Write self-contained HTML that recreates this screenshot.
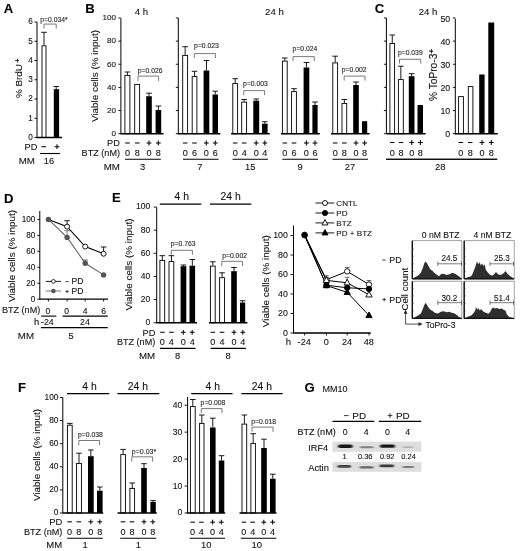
<!DOCTYPE html>
<html><head><meta charset="utf-8"><title>Figure</title>
<style>html,body{margin:0;padding:0;background:#fff}body{width:520px;height:551px;overflow:hidden;font-family:"Liberation Sans",sans-serif}svg{display:block;will-change:transform}text{font-family:"Liberation Sans",sans-serif;stroke:#111;stroke-width:0.1px;paint-order:stroke fill}</style>
</head><body>
<svg width="520" height="551" viewBox="0 0 520 551">
<rect width="520" height="551" fill="#fff"/>
<text x="3.80" y="13.49" font-size="13.1" text-anchor="start" font-weight="bold" fill="#000">A</text>
<text x="85.30" y="12.99" font-size="13.1" text-anchor="start" font-weight="bold" fill="#000">B</text>
<text x="374.80" y="12.99" font-size="13.1" text-anchor="start" font-weight="bold" fill="#000">C</text>
<text x="4.00" y="202.99" font-size="13.1" text-anchor="start" font-weight="bold" fill="#000">D</text>
<text x="112.00" y="202.19" font-size="13.1" text-anchor="start" font-weight="bold" fill="#000">E</text>
<text x="18.00" y="391.89" font-size="13.1" text-anchor="start" font-weight="bold" fill="#000">F</text>
<text x="304.50" y="392.09" font-size="13.1" text-anchor="start" font-weight="bold" fill="#000">G</text>
<line x1="37.00" y1="22.00" x2="37.00" y2="137.50" stroke="#000" stroke-width="1" stroke-linecap="butt"/>
<line x1="34.50" y1="137.50" x2="37.00" y2="137.50" stroke="#000" stroke-width="0.9" stroke-linecap="butt"/>
<text x="32.70" y="139.84" font-size="8.2" text-anchor="end" font-weight="normal" fill="#111">0</text>
<line x1="34.50" y1="118.25" x2="37.00" y2="118.25" stroke="#000" stroke-width="0.9" stroke-linecap="butt"/>
<text x="32.70" y="120.59" font-size="8.2" text-anchor="end" font-weight="normal" fill="#111">1</text>
<line x1="34.50" y1="99.00" x2="37.00" y2="99.00" stroke="#000" stroke-width="0.9" stroke-linecap="butt"/>
<text x="32.70" y="101.34" font-size="8.2" text-anchor="end" font-weight="normal" fill="#111">2</text>
<line x1="34.50" y1="79.75" x2="37.00" y2="79.75" stroke="#000" stroke-width="0.9" stroke-linecap="butt"/>
<text x="32.70" y="82.09" font-size="8.2" text-anchor="end" font-weight="normal" fill="#111">3</text>
<line x1="34.50" y1="60.50" x2="37.00" y2="60.50" stroke="#000" stroke-width="0.9" stroke-linecap="butt"/>
<text x="32.70" y="62.84" font-size="8.2" text-anchor="end" font-weight="normal" fill="#111">4</text>
<line x1="34.50" y1="41.25" x2="37.00" y2="41.25" stroke="#000" stroke-width="0.9" stroke-linecap="butt"/>
<text x="32.70" y="43.59" font-size="8.2" text-anchor="end" font-weight="normal" fill="#111">5</text>
<line x1="34.50" y1="22.00" x2="37.00" y2="22.00" stroke="#000" stroke-width="0.9" stroke-linecap="butt"/>
<text x="32.70" y="24.34" font-size="8.2" text-anchor="end" font-weight="normal" fill="#111">6</text>
<line x1="44.00" y1="32.30" x2="44.00" y2="45.40" stroke="#000" stroke-width="0.9" stroke-linecap="butt"/>
<line x1="41.20" y1="32.30" x2="46.80" y2="32.30" stroke="#000" stroke-width="0.9" stroke-linecap="butt"/>
<rect x="42.00" y="45.80" width="4.00" height="91.70" fill="#fff" stroke="#000" stroke-width="0.9"/>
<line x1="56.20" y1="86.50" x2="56.20" y2="89.40" stroke="#000" stroke-width="0.9" stroke-linecap="butt"/>
<line x1="53.40" y1="86.50" x2="59.00" y2="86.50" stroke="#000" stroke-width="0.9" stroke-linecap="butt"/>
<rect x="53.80" y="89.20" width="5.30" height="48.30" fill="#000"/>
<line x1="36.50" y1="137.50" x2="62.00" y2="137.50" stroke="#000" stroke-width="1.5" stroke-linecap="butt"/>
<g transform="translate(18.80 78.20) rotate(-90)"><text x="0" y="3.54" font-size="9.9" text-anchor="middle" fill="#111">% BrdU<tspan dy="-2.67" dx="1.3" font-size="7.43" font-weight="bold">+</tspan></text></g>
<text x="54.00" y="21.63" font-size="6.8" text-anchor="middle" font-weight="normal" fill="#222">p=0.034*</text>
<path d="M44.00 28.60V24.10H56.20V28.60" fill="none" stroke="#585858" stroke-width="0.8"/>
<text x="37.30" y="149.99" font-size="9.2" text-anchor="end" font-weight="normal" fill="#111">PD</text>
<line x1="41.40" y1="146.70" x2="46.00" y2="146.70" stroke="#111" stroke-width="1.1" stroke-linecap="butt"/>
<line x1="54.60" y1="146.70" x2="59.40" y2="146.70" stroke="#111" stroke-width="1.1" stroke-linecap="butt"/>
<line x1="57.00" y1="144.30" x2="57.00" y2="149.10" stroke="#111" stroke-width="1.1" stroke-linecap="butt"/>
<line x1="40.00" y1="153.50" x2="60.00" y2="153.50" stroke="#000" stroke-width="1.1" stroke-linecap="butt"/>
<text x="34.80" y="163.77" font-size="9.7" text-anchor="end" font-weight="normal" fill="#111">MM</text>
<text x="49.00" y="163.73" font-size="9.3" text-anchor="middle" font-weight="normal" fill="#111">16</text>
<line x1="120.90" y1="18.40" x2="120.90" y2="133.70" stroke="#000" stroke-width="1" stroke-linecap="butt"/>
<line x1="118.40" y1="133.70" x2="120.90" y2="133.70" stroke="#000" stroke-width="0.9" stroke-linecap="butt"/>
<text x="115.90" y="136.00" font-size="8.1" text-anchor="end" font-weight="normal" fill="#111">0</text>
<line x1="118.40" y1="110.55" x2="120.90" y2="110.55" stroke="#000" stroke-width="0.9" stroke-linecap="butt"/>
<text x="115.90" y="112.85" font-size="8.1" text-anchor="end" font-weight="normal" fill="#111">20</text>
<line x1="118.40" y1="87.40" x2="120.90" y2="87.40" stroke="#000" stroke-width="0.9" stroke-linecap="butt"/>
<text x="115.90" y="89.70" font-size="8.1" text-anchor="end" font-weight="normal" fill="#111">40</text>
<line x1="118.40" y1="64.25" x2="120.90" y2="64.25" stroke="#000" stroke-width="0.9" stroke-linecap="butt"/>
<text x="115.90" y="66.55" font-size="8.1" text-anchor="end" font-weight="normal" fill="#111">60</text>
<line x1="118.40" y1="41.10" x2="120.90" y2="41.10" stroke="#000" stroke-width="0.9" stroke-linecap="butt"/>
<text x="115.90" y="43.40" font-size="8.1" text-anchor="end" font-weight="normal" fill="#111">80</text>
<line x1="118.40" y1="17.95" x2="120.90" y2="17.95" stroke="#000" stroke-width="0.9" stroke-linecap="butt"/>
<text x="115.90" y="20.25" font-size="8.1" text-anchor="end" font-weight="normal" fill="#111">100</text>
<g transform="translate(94.20 76.00) rotate(-90)"><text x="0" y="3.54" font-size="9.9" text-anchor="middle" fill="#111">Viable cells (% input)</text></g>
<text x="141.50" y="14.84" font-size="9.6" text-anchor="middle" font-weight="normal" fill="#111">4 h</text>
<text x="274.40" y="15.04" font-size="9.6" text-anchor="middle" font-weight="normal" fill="#111">24 h</text>
<line x1="127.40" y1="72.00" x2="127.40" y2="75.00" stroke="#000" stroke-width="0.9" stroke-linecap="butt"/>
<line x1="124.60" y1="72.00" x2="130.20" y2="72.00" stroke="#000" stroke-width="0.9" stroke-linecap="butt"/>
<rect x="124.90" y="75.40" width="5.00" height="58.30" fill="#fff" stroke="#000" stroke-width="0.9"/>
<rect x="134.70" y="84.40" width="4.90" height="49.30" fill="#fff" stroke="#000" stroke-width="0.9"/>
<line x1="149.00" y1="93.20" x2="149.00" y2="96.20" stroke="#000" stroke-width="0.9" stroke-linecap="butt"/>
<line x1="146.20" y1="93.20" x2="151.80" y2="93.20" stroke="#000" stroke-width="0.9" stroke-linecap="butt"/>
<rect x="146.20" y="96.20" width="5.60" height="37.50" fill="#000"/>
<line x1="158.40" y1="106.00" x2="158.40" y2="110.00" stroke="#000" stroke-width="0.9" stroke-linecap="butt"/>
<line x1="155.60" y1="106.00" x2="161.20" y2="106.00" stroke="#000" stroke-width="0.9" stroke-linecap="butt"/>
<rect x="155.60" y="110.00" width="5.60" height="23.70" fill="#000"/>
<line x1="120.40" y1="133.70" x2="163.60" y2="133.70" stroke="#000" stroke-width="1.5" stroke-linecap="butt"/>
<line x1="125.20" y1="143.00" x2="129.80" y2="143.00" stroke="#111" stroke-width="1.1" stroke-linecap="butt"/>
<line x1="135.00" y1="143.00" x2="139.60" y2="143.00" stroke="#111" stroke-width="1.1" stroke-linecap="butt"/>
<line x1="146.60" y1="143.00" x2="151.40" y2="143.00" stroke="#111" stroke-width="1.1" stroke-linecap="butt"/>
<line x1="149.00" y1="140.60" x2="149.00" y2="145.40" stroke="#111" stroke-width="1.1" stroke-linecap="butt"/>
<line x1="155.90" y1="143.00" x2="160.70" y2="143.00" stroke="#111" stroke-width="1.1" stroke-linecap="butt"/>
<line x1="158.30" y1="140.60" x2="158.30" y2="145.40" stroke="#111" stroke-width="1.1" stroke-linecap="butt"/>
<text x="127.50" y="156.46" font-size="9.1" text-anchor="middle" font-weight="normal" fill="#111">0</text>
<text x="137.30" y="156.46" font-size="9.1" text-anchor="middle" font-weight="normal" fill="#111">8</text>
<text x="149.00" y="156.46" font-size="9.1" text-anchor="middle" font-weight="normal" fill="#111">0</text>
<text x="158.30" y="156.46" font-size="9.1" text-anchor="middle" font-weight="normal" fill="#111">8</text>
<line x1="125.00" y1="159.20" x2="160.80" y2="159.20" stroke="#000" stroke-width="1.1" stroke-linecap="butt"/>
<text x="142.70" y="169.57" font-size="9.4" text-anchor="middle" font-weight="normal" fill="#111">3</text>
<text x="150.20" y="72.73" font-size="6.8" text-anchor="middle" font-weight="normal" fill="#222">p=0.026</text>
<path d="M138.00 81.10V76.10H158.60V81.10" fill="none" stroke="#585858" stroke-width="0.8"/>
<text x="119.80" y="146.29" font-size="9.2" text-anchor="end" font-weight="normal" fill="#111">PD</text>
<text x="120.00" y="156.46" font-size="9.1" text-anchor="end" font-weight="normal" fill="#111">BTZ (nM)</text>
<text x="119.80" y="169.67" font-size="9.7" text-anchor="end" font-weight="normal" fill="#111">MM</text>
<line x1="178.30" y1="18.00" x2="178.30" y2="133.70" stroke="#000" stroke-width="1" stroke-linecap="butt"/>
<line x1="175.80" y1="133.70" x2="178.30" y2="133.70" stroke="#000" stroke-width="0.9" stroke-linecap="butt"/>
<line x1="175.80" y1="110.55" x2="178.30" y2="110.55" stroke="#000" stroke-width="0.9" stroke-linecap="butt"/>
<line x1="175.80" y1="87.40" x2="178.30" y2="87.40" stroke="#000" stroke-width="0.9" stroke-linecap="butt"/>
<line x1="175.80" y1="64.25" x2="178.30" y2="64.25" stroke="#000" stroke-width="0.9" stroke-linecap="butt"/>
<line x1="175.80" y1="41.10" x2="178.30" y2="41.10" stroke="#000" stroke-width="0.9" stroke-linecap="butt"/>
<line x1="175.80" y1="17.95" x2="178.30" y2="17.95" stroke="#000" stroke-width="0.9" stroke-linecap="butt"/>
<line x1="185.15" y1="46.70" x2="185.15" y2="55.00" stroke="#000" stroke-width="0.9" stroke-linecap="butt"/>
<line x1="182.35" y1="46.70" x2="187.95" y2="46.70" stroke="#000" stroke-width="0.9" stroke-linecap="butt"/>
<rect x="182.70" y="55.40" width="4.90" height="78.30" fill="#fff" stroke="#000" stroke-width="0.9"/>
<line x1="194.55" y1="71.30" x2="194.55" y2="76.20" stroke="#000" stroke-width="0.9" stroke-linecap="butt"/>
<line x1="191.75" y1="71.30" x2="197.35" y2="71.30" stroke="#000" stroke-width="0.9" stroke-linecap="butt"/>
<rect x="192.20" y="76.60" width="4.70" height="57.10" fill="#fff" stroke="#000" stroke-width="0.9"/>
<line x1="206.45" y1="60.50" x2="206.45" y2="70.50" stroke="#000" stroke-width="0.9" stroke-linecap="butt"/>
<line x1="203.65" y1="60.50" x2="209.25" y2="60.50" stroke="#000" stroke-width="0.9" stroke-linecap="butt"/>
<rect x="203.60" y="70.50" width="5.70" height="63.20" fill="#000"/>
<line x1="215.25" y1="91.20" x2="215.25" y2="94.50" stroke="#000" stroke-width="0.9" stroke-linecap="butt"/>
<line x1="212.45" y1="91.20" x2="218.05" y2="91.20" stroke="#000" stroke-width="0.9" stroke-linecap="butt"/>
<rect x="212.50" y="94.50" width="5.50" height="39.20" fill="#000"/>
<line x1="177.80" y1="133.70" x2="220.40" y2="133.70" stroke="#000" stroke-width="1.5" stroke-linecap="butt"/>
<line x1="182.90" y1="143.00" x2="187.50" y2="143.00" stroke="#111" stroke-width="1.1" stroke-linecap="butt"/>
<line x1="192.20" y1="143.00" x2="196.80" y2="143.00" stroke="#111" stroke-width="1.1" stroke-linecap="butt"/>
<line x1="203.90" y1="143.00" x2="208.70" y2="143.00" stroke="#111" stroke-width="1.1" stroke-linecap="butt"/>
<line x1="206.30" y1="140.60" x2="206.30" y2="145.40" stroke="#111" stroke-width="1.1" stroke-linecap="butt"/>
<line x1="212.90" y1="143.00" x2="217.70" y2="143.00" stroke="#111" stroke-width="1.1" stroke-linecap="butt"/>
<line x1="215.30" y1="140.60" x2="215.30" y2="145.40" stroke="#111" stroke-width="1.1" stroke-linecap="butt"/>
<text x="185.20" y="156.46" font-size="9.1" text-anchor="middle" font-weight="normal" fill="#111">0</text>
<text x="194.50" y="156.46" font-size="9.1" text-anchor="middle" font-weight="normal" fill="#111">6</text>
<text x="206.30" y="156.46" font-size="9.1" text-anchor="middle" font-weight="normal" fill="#111">0</text>
<text x="215.30" y="156.46" font-size="9.1" text-anchor="middle" font-weight="normal" fill="#111">6</text>
<line x1="183.00" y1="159.20" x2="218.60" y2="159.20" stroke="#000" stroke-width="1.1" stroke-linecap="butt"/>
<text x="199.80" y="169.57" font-size="9.4" text-anchor="middle" font-weight="normal" fill="#111">7</text>
<text x="206.50" y="48.13" font-size="6.8" text-anchor="middle" font-weight="normal" fill="#222">p=0.023</text>
<path d="M194.30 58.10V53.60H215.40V58.10" fill="none" stroke="#585858" stroke-width="0.8"/>
<line x1="235.20" y1="78.70" x2="235.20" y2="83.20" stroke="#000" stroke-width="0.9" stroke-linecap="butt"/>
<line x1="232.40" y1="78.70" x2="238.00" y2="78.70" stroke="#000" stroke-width="0.9" stroke-linecap="butt"/>
<rect x="232.80" y="83.60" width="4.80" height="50.10" fill="#fff" stroke="#000" stroke-width="0.9"/>
<line x1="244.15" y1="99.50" x2="244.15" y2="101.70" stroke="#000" stroke-width="0.9" stroke-linecap="butt"/>
<line x1="241.35" y1="99.50" x2="246.95" y2="99.50" stroke="#000" stroke-width="0.9" stroke-linecap="butt"/>
<rect x="241.70" y="102.10" width="4.90" height="31.60" fill="#fff" stroke="#000" stroke-width="0.9"/>
<line x1="256.25" y1="99.00" x2="256.25" y2="100.70" stroke="#000" stroke-width="0.9" stroke-linecap="butt"/>
<line x1="253.45" y1="99.00" x2="259.05" y2="99.00" stroke="#000" stroke-width="0.9" stroke-linecap="butt"/>
<rect x="253.30" y="100.70" width="5.90" height="33.00" fill="#000"/>
<line x1="264.80" y1="121.70" x2="264.80" y2="123.70" stroke="#000" stroke-width="0.9" stroke-linecap="butt"/>
<line x1="262.00" y1="121.70" x2="267.60" y2="121.70" stroke="#000" stroke-width="0.9" stroke-linecap="butt"/>
<rect x="262.00" y="123.70" width="5.60" height="10.00" fill="#000"/>
<line x1="231.00" y1="133.70" x2="269.80" y2="133.70" stroke="#000" stroke-width="1.5" stroke-linecap="butt"/>
<line x1="232.90" y1="143.00" x2="237.50" y2="143.00" stroke="#111" stroke-width="1.1" stroke-linecap="butt"/>
<line x1="241.90" y1="143.00" x2="246.50" y2="143.00" stroke="#111" stroke-width="1.1" stroke-linecap="butt"/>
<line x1="253.80" y1="143.00" x2="258.60" y2="143.00" stroke="#111" stroke-width="1.1" stroke-linecap="butt"/>
<line x1="256.20" y1="140.60" x2="256.20" y2="145.40" stroke="#111" stroke-width="1.1" stroke-linecap="butt"/>
<line x1="262.40" y1="143.00" x2="267.20" y2="143.00" stroke="#111" stroke-width="1.1" stroke-linecap="butt"/>
<line x1="264.80" y1="140.60" x2="264.80" y2="145.40" stroke="#111" stroke-width="1.1" stroke-linecap="butt"/>
<text x="235.20" y="156.46" font-size="9.1" text-anchor="middle" font-weight="normal" fill="#111">0</text>
<text x="244.20" y="156.46" font-size="9.1" text-anchor="middle" font-weight="normal" fill="#111">4</text>
<text x="256.20" y="156.46" font-size="9.1" text-anchor="middle" font-weight="normal" fill="#111">0</text>
<text x="264.80" y="156.46" font-size="9.1" text-anchor="middle" font-weight="normal" fill="#111">4</text>
<line x1="232.60" y1="159.20" x2="268.00" y2="159.20" stroke="#000" stroke-width="1.1" stroke-linecap="butt"/>
<text x="250.20" y="169.57" font-size="9.4" text-anchor="middle" font-weight="normal" fill="#111">15</text>
<text x="255.50" y="85.63" font-size="6.8" text-anchor="middle" font-weight="normal" fill="#222">p=0.003</text>
<path d="M243.80 95.10V90.60H264.60V95.10" fill="none" stroke="#585858" stroke-width="0.8"/>
<line x1="284.80" y1="58.00" x2="284.80" y2="60.70" stroke="#000" stroke-width="0.9" stroke-linecap="butt"/>
<line x1="282.00" y1="58.00" x2="287.60" y2="58.00" stroke="#000" stroke-width="0.9" stroke-linecap="butt"/>
<rect x="282.40" y="61.10" width="4.80" height="72.60" fill="#fff" stroke="#000" stroke-width="0.9"/>
<line x1="294.00" y1="88.70" x2="294.00" y2="91.20" stroke="#000" stroke-width="0.9" stroke-linecap="butt"/>
<line x1="291.20" y1="88.70" x2="296.80" y2="88.70" stroke="#000" stroke-width="0.9" stroke-linecap="butt"/>
<rect x="291.60" y="91.60" width="4.80" height="42.10" fill="#fff" stroke="#000" stroke-width="0.9"/>
<line x1="306.45" y1="62.50" x2="306.45" y2="67.50" stroke="#000" stroke-width="0.9" stroke-linecap="butt"/>
<line x1="303.65" y1="62.50" x2="309.25" y2="62.50" stroke="#000" stroke-width="0.9" stroke-linecap="butt"/>
<rect x="303.60" y="67.50" width="5.70" height="66.20" fill="#000"/>
<line x1="315.00" y1="102.00" x2="315.00" y2="105.00" stroke="#000" stroke-width="0.9" stroke-linecap="butt"/>
<line x1="312.20" y1="102.00" x2="317.80" y2="102.00" stroke="#000" stroke-width="0.9" stroke-linecap="butt"/>
<rect x="312.40" y="105.00" width="5.20" height="28.70" fill="#000"/>
<line x1="281.00" y1="133.70" x2="319.80" y2="133.70" stroke="#000" stroke-width="1.5" stroke-linecap="butt"/>
<line x1="282.50" y1="143.00" x2="287.10" y2="143.00" stroke="#111" stroke-width="1.1" stroke-linecap="butt"/>
<line x1="291.70" y1="143.00" x2="296.30" y2="143.00" stroke="#111" stroke-width="1.1" stroke-linecap="butt"/>
<line x1="304.00" y1="143.00" x2="308.80" y2="143.00" stroke="#111" stroke-width="1.1" stroke-linecap="butt"/>
<line x1="306.40" y1="140.60" x2="306.40" y2="145.40" stroke="#111" stroke-width="1.1" stroke-linecap="butt"/>
<line x1="312.60" y1="143.00" x2="317.40" y2="143.00" stroke="#111" stroke-width="1.1" stroke-linecap="butt"/>
<line x1="315.00" y1="140.60" x2="315.00" y2="145.40" stroke="#111" stroke-width="1.1" stroke-linecap="butt"/>
<text x="284.80" y="156.46" font-size="9.1" text-anchor="middle" font-weight="normal" fill="#111">0</text>
<text x="294.00" y="156.46" font-size="9.1" text-anchor="middle" font-weight="normal" fill="#111">6</text>
<text x="306.40" y="156.46" font-size="9.1" text-anchor="middle" font-weight="normal" fill="#111">0</text>
<text x="315.00" y="156.46" font-size="9.1" text-anchor="middle" font-weight="normal" fill="#111">6</text>
<line x1="282.30" y1="159.20" x2="318.00" y2="159.20" stroke="#000" stroke-width="1.1" stroke-linecap="butt"/>
<text x="300.00" y="169.57" font-size="9.4" text-anchor="middle" font-weight="normal" fill="#111">9</text>
<text x="305.00" y="51.43" font-size="6.8" text-anchor="middle" font-weight="normal" fill="#222">p=0.024</text>
<path d="M293.00 61.10V56.60H314.30V61.10" fill="none" stroke="#585858" stroke-width="0.8"/>
<line x1="335.20" y1="56.20" x2="335.20" y2="62.50" stroke="#000" stroke-width="0.9" stroke-linecap="butt"/>
<line x1="332.40" y1="56.20" x2="338.00" y2="56.20" stroke="#000" stroke-width="0.9" stroke-linecap="butt"/>
<rect x="332.80" y="62.90" width="4.80" height="70.80" fill="#fff" stroke="#000" stroke-width="0.9"/>
<line x1="344.35" y1="99.50" x2="344.35" y2="103.00" stroke="#000" stroke-width="0.9" stroke-linecap="butt"/>
<line x1="341.55" y1="99.50" x2="347.15" y2="99.50" stroke="#000" stroke-width="0.9" stroke-linecap="butt"/>
<rect x="342.00" y="103.40" width="4.70" height="30.30" fill="#fff" stroke="#000" stroke-width="0.9"/>
<line x1="356.00" y1="82.00" x2="356.00" y2="85.00" stroke="#000" stroke-width="0.9" stroke-linecap="butt"/>
<line x1="353.20" y1="82.00" x2="358.80" y2="82.00" stroke="#000" stroke-width="0.9" stroke-linecap="butt"/>
<rect x="353.20" y="85.00" width="5.60" height="48.70" fill="#000"/>
<rect x="362.00" y="121.20" width="5.20" height="12.50" fill="#000"/>
<line x1="331.00" y1="133.70" x2="369.60" y2="133.70" stroke="#000" stroke-width="1.5" stroke-linecap="butt"/>
<line x1="332.90" y1="143.00" x2="337.50" y2="143.00" stroke="#111" stroke-width="1.1" stroke-linecap="butt"/>
<line x1="342.00" y1="143.00" x2="346.60" y2="143.00" stroke="#111" stroke-width="1.1" stroke-linecap="butt"/>
<line x1="353.60" y1="143.00" x2="358.40" y2="143.00" stroke="#111" stroke-width="1.1" stroke-linecap="butt"/>
<line x1="356.00" y1="140.60" x2="356.00" y2="145.40" stroke="#111" stroke-width="1.1" stroke-linecap="butt"/>
<line x1="362.20" y1="143.00" x2="367.00" y2="143.00" stroke="#111" stroke-width="1.1" stroke-linecap="butt"/>
<line x1="364.60" y1="140.60" x2="364.60" y2="145.40" stroke="#111" stroke-width="1.1" stroke-linecap="butt"/>
<text x="335.20" y="156.46" font-size="9.1" text-anchor="middle" font-weight="normal" fill="#111">0</text>
<text x="344.30" y="156.46" font-size="9.1" text-anchor="middle" font-weight="normal" fill="#111">8</text>
<text x="356.00" y="156.46" font-size="9.1" text-anchor="middle" font-weight="normal" fill="#111">0</text>
<text x="364.60" y="156.46" font-size="9.1" text-anchor="middle" font-weight="normal" fill="#111">8</text>
<line x1="332.50" y1="159.20" x2="368.00" y2="159.20" stroke="#000" stroke-width="1.1" stroke-linecap="butt"/>
<text x="350.00" y="169.57" font-size="9.4" text-anchor="middle" font-weight="normal" fill="#111">27</text>
<text x="354.20" y="71.63" font-size="6.8" text-anchor="middle" font-weight="normal" fill="#222">p=0.002</text>
<path d="M344.20 80.60V76.10H365.00V80.60" fill="none" stroke="#585858" stroke-width="0.8"/>
<line x1="386.40" y1="18.00" x2="386.40" y2="133.70" stroke="#000" stroke-width="1" stroke-linecap="butt"/>
<line x1="383.90" y1="133.70" x2="386.40" y2="133.70" stroke="#000" stroke-width="0.9" stroke-linecap="butt"/>
<line x1="383.90" y1="110.55" x2="386.40" y2="110.55" stroke="#000" stroke-width="0.9" stroke-linecap="butt"/>
<line x1="383.90" y1="87.40" x2="386.40" y2="87.40" stroke="#000" stroke-width="0.9" stroke-linecap="butt"/>
<line x1="383.90" y1="64.25" x2="386.40" y2="64.25" stroke="#000" stroke-width="0.9" stroke-linecap="butt"/>
<line x1="383.90" y1="41.10" x2="386.40" y2="41.10" stroke="#000" stroke-width="0.9" stroke-linecap="butt"/>
<line x1="383.90" y1="17.95" x2="386.40" y2="17.95" stroke="#000" stroke-width="0.9" stroke-linecap="butt"/>
<line x1="392.25" y1="35.00" x2="392.25" y2="43.00" stroke="#000" stroke-width="0.9" stroke-linecap="butt"/>
<line x1="389.45" y1="35.00" x2="395.05" y2="35.00" stroke="#000" stroke-width="0.9" stroke-linecap="butt"/>
<rect x="389.90" y="43.40" width="4.70" height="90.30" fill="#fff" stroke="#000" stroke-width="0.9"/>
<line x1="400.85" y1="66.20" x2="400.85" y2="79.20" stroke="#000" stroke-width="0.9" stroke-linecap="butt"/>
<line x1="398.05" y1="66.20" x2="403.65" y2="66.20" stroke="#000" stroke-width="0.9" stroke-linecap="butt"/>
<rect x="398.40" y="79.60" width="4.90" height="54.10" fill="#fff" stroke="#000" stroke-width="0.9"/>
<line x1="411.65" y1="73.70" x2="411.65" y2="76.20" stroke="#000" stroke-width="0.9" stroke-linecap="butt"/>
<line x1="408.85" y1="73.70" x2="414.45" y2="73.70" stroke="#000" stroke-width="0.9" stroke-linecap="butt"/>
<rect x="408.80" y="76.20" width="5.70" height="57.50" fill="#000"/>
<rect x="417.50" y="105.00" width="5.50" height="28.70" fill="#000"/>
<line x1="386.40" y1="133.70" x2="425.60" y2="133.70" stroke="#000" stroke-width="1.5" stroke-linecap="butt"/>
<line x1="389.90" y1="142.50" x2="394.50" y2="142.50" stroke="#111" stroke-width="1.1" stroke-linecap="butt"/>
<line x1="398.70" y1="142.50" x2="403.30" y2="142.50" stroke="#111" stroke-width="1.1" stroke-linecap="butt"/>
<line x1="409.30" y1="142.50" x2="414.10" y2="142.50" stroke="#111" stroke-width="1.1" stroke-linecap="butt"/>
<line x1="411.70" y1="140.10" x2="411.70" y2="144.90" stroke="#111" stroke-width="1.1" stroke-linecap="butt"/>
<line x1="418.00" y1="142.50" x2="422.80" y2="142.50" stroke="#111" stroke-width="1.1" stroke-linecap="butt"/>
<line x1="420.40" y1="140.10" x2="420.40" y2="144.90" stroke="#111" stroke-width="1.1" stroke-linecap="butt"/>
<text x="392.20" y="156.26" font-size="9.1" text-anchor="middle" font-weight="normal" fill="#111">0</text>
<text x="401.00" y="156.26" font-size="9.1" text-anchor="middle" font-weight="normal" fill="#111">8</text>
<text x="411.70" y="156.26" font-size="9.1" text-anchor="middle" font-weight="normal" fill="#111">0</text>
<text x="420.40" y="156.26" font-size="9.1" text-anchor="middle" font-weight="normal" fill="#111">8</text>
<line x1="386.00" y1="159.20" x2="497.20" y2="159.20" stroke="#000" stroke-width="1.1" stroke-linecap="butt"/>
<text x="440.30" y="169.57" font-size="9.4" text-anchor="middle" font-weight="normal" fill="#111">28</text>
<text x="410.30" y="54.93" font-size="6.8" text-anchor="middle" font-weight="normal" fill="#222">p=0.039</text>
<path d="M399.50 63.60V59.30H420.70V63.60" fill="none" stroke="#585858" stroke-width="0.8"/>
<text x="428.00" y="15.04" font-size="9.6" text-anchor="middle" font-weight="normal" fill="#111">24 h</text>
<line x1="455.30" y1="18.60" x2="455.30" y2="133.70" stroke="#000" stroke-width="1" stroke-linecap="butt"/>
<line x1="452.80" y1="133.70" x2="455.30" y2="133.70" stroke="#000" stroke-width="0.9" stroke-linecap="butt"/>
<text x="450.20" y="137.35" font-size="8.8" text-anchor="end" font-weight="normal" fill="#111">0</text>
<line x1="452.80" y1="110.55" x2="455.30" y2="110.55" stroke="#000" stroke-width="0.9" stroke-linecap="butt"/>
<text x="450.20" y="114.20" font-size="8.8" text-anchor="end" font-weight="normal" fill="#111">10</text>
<line x1="452.80" y1="87.40" x2="455.30" y2="87.40" stroke="#000" stroke-width="0.9" stroke-linecap="butt"/>
<text x="450.20" y="91.05" font-size="8.8" text-anchor="end" font-weight="normal" fill="#111">20</text>
<line x1="452.80" y1="64.25" x2="455.30" y2="64.25" stroke="#000" stroke-width="0.9" stroke-linecap="butt"/>
<text x="450.20" y="67.90" font-size="8.8" text-anchor="end" font-weight="normal" fill="#111">30</text>
<line x1="452.80" y1="41.10" x2="455.30" y2="41.10" stroke="#000" stroke-width="0.9" stroke-linecap="butt"/>
<text x="450.20" y="44.75" font-size="8.8" text-anchor="end" font-weight="normal" fill="#111">40</text>
<line x1="452.80" y1="17.95" x2="455.30" y2="17.95" stroke="#000" stroke-width="0.9" stroke-linecap="butt"/>
<text x="450.20" y="21.60" font-size="8.8" text-anchor="end" font-weight="normal" fill="#111">50</text>
<rect x="458.60" y="96.60" width="4.80" height="37.10" fill="#fff" stroke="#000" stroke-width="0.9"/>
<rect x="468.30" y="86.60" width="4.60" height="47.10" fill="#fff" stroke="#000" stroke-width="0.9"/>
<rect x="479.20" y="74.50" width="5.40" height="59.20" fill="#000"/>
<rect x="488.30" y="22.50" width="5.90" height="111.20" fill="#000"/>
<line x1="454.80" y1="133.70" x2="497.80" y2="133.70" stroke="#000" stroke-width="1.5" stroke-linecap="butt"/>
<line x1="458.50" y1="142.50" x2="463.10" y2="142.50" stroke="#111" stroke-width="1.1" stroke-linecap="butt"/>
<line x1="467.90" y1="142.50" x2="472.50" y2="142.50" stroke="#111" stroke-width="1.1" stroke-linecap="butt"/>
<line x1="479.60" y1="142.50" x2="484.40" y2="142.50" stroke="#111" stroke-width="1.1" stroke-linecap="butt"/>
<line x1="482.00" y1="140.10" x2="482.00" y2="144.90" stroke="#111" stroke-width="1.1" stroke-linecap="butt"/>
<line x1="488.90" y1="142.50" x2="493.70" y2="142.50" stroke="#111" stroke-width="1.1" stroke-linecap="butt"/>
<line x1="491.30" y1="140.10" x2="491.30" y2="144.90" stroke="#111" stroke-width="1.1" stroke-linecap="butt"/>
<text x="460.80" y="156.26" font-size="9.1" text-anchor="middle" font-weight="normal" fill="#111">0</text>
<text x="470.20" y="156.26" font-size="9.1" text-anchor="middle" font-weight="normal" fill="#111">8</text>
<text x="482.00" y="156.26" font-size="9.1" text-anchor="middle" font-weight="normal" fill="#111">0</text>
<text x="491.30" y="156.26" font-size="9.1" text-anchor="middle" font-weight="normal" fill="#111">8</text>
<line x1="386.00" y1="159.20" x2="497.20" y2="159.20" stroke="#000" stroke-width="1.1" stroke-linecap="butt"/>
<g transform="translate(433.20 75.00) rotate(-90)"><text x="0" y="3.65" font-size="10.2" text-anchor="middle" fill="#111">% ToPro-3<tspan dy="-2.75" dx="0.3" font-size="7.65" font-weight="bold">+</tspan></text></g>
<line x1="39.80" y1="211.00" x2="39.80" y2="299.20" stroke="#000" stroke-width="1" stroke-linecap="butt"/>
<line x1="37.30" y1="299.20" x2="39.80" y2="299.20" stroke="#000" stroke-width="0.9" stroke-linecap="butt"/>
<text x="35.40" y="301.54" font-size="8.2" text-anchor="end" font-weight="normal" fill="#111">0</text>
<line x1="37.30" y1="283.25" x2="39.80" y2="283.25" stroke="#000" stroke-width="0.9" stroke-linecap="butt"/>
<text x="35.40" y="285.59" font-size="8.2" text-anchor="end" font-weight="normal" fill="#111">20</text>
<line x1="37.30" y1="267.30" x2="39.80" y2="267.30" stroke="#000" stroke-width="0.9" stroke-linecap="butt"/>
<text x="35.40" y="269.64" font-size="8.2" text-anchor="end" font-weight="normal" fill="#111">40</text>
<line x1="37.30" y1="251.35" x2="39.80" y2="251.35" stroke="#000" stroke-width="0.9" stroke-linecap="butt"/>
<text x="35.40" y="253.69" font-size="8.2" text-anchor="end" font-weight="normal" fill="#111">60</text>
<line x1="37.30" y1="235.40" x2="39.80" y2="235.40" stroke="#000" stroke-width="0.9" stroke-linecap="butt"/>
<text x="35.40" y="237.74" font-size="8.2" text-anchor="end" font-weight="normal" fill="#111">80</text>
<line x1="37.30" y1="219.45" x2="39.80" y2="219.45" stroke="#000" stroke-width="0.9" stroke-linecap="butt"/>
<text x="35.40" y="221.79" font-size="8.2" text-anchor="end" font-weight="normal" fill="#111">100</text>
<line x1="39.30" y1="299.20" x2="108.00" y2="299.20" stroke="#000" stroke-width="1.3" stroke-linecap="butt"/>
<line x1="48.40" y1="299.20" x2="48.40" y2="301.50" stroke="#000" stroke-width="0.9" stroke-linecap="butt"/>
<line x1="67.10" y1="299.20" x2="67.10" y2="301.50" stroke="#000" stroke-width="0.9" stroke-linecap="butt"/>
<line x1="85.20" y1="299.20" x2="85.20" y2="301.50" stroke="#000" stroke-width="0.9" stroke-linecap="butt"/>
<line x1="103.60" y1="299.20" x2="103.60" y2="301.50" stroke="#000" stroke-width="0.9" stroke-linecap="butt"/>
<g transform="translate(11.30 256.00) rotate(-90)"><text x="0" y="3.54" font-size="9.9" text-anchor="middle" fill="#111">Viable cells (% input)</text></g>
<line x1="67.10" y1="220.70" x2="67.10" y2="226.63" stroke="#000" stroke-width="0.9" stroke-linecap="butt"/>
<line x1="64.30" y1="220.70" x2="69.90" y2="220.70" stroke="#000" stroke-width="0.9" stroke-linecap="butt"/>
<line x1="103.60" y1="247.00" x2="103.60" y2="253.74" stroke="#000" stroke-width="0.9" stroke-linecap="butt"/>
<line x1="100.80" y1="247.00" x2="106.40" y2="247.00" stroke="#000" stroke-width="0.9" stroke-linecap="butt"/>
<line x1="67.10" y1="230.70" x2="67.10" y2="237.39" stroke="#666" stroke-width="0.9" stroke-linecap="butt"/>
<line x1="64.30" y1="230.70" x2="69.90" y2="230.70" stroke="#666" stroke-width="0.9" stroke-linecap="butt"/>
<line x1="85.20" y1="260.00" x2="85.20" y2="263.31" stroke="#666" stroke-width="0.9" stroke-linecap="butt"/>
<line x1="82.40" y1="260.00" x2="88.00" y2="260.00" stroke="#666" stroke-width="0.9" stroke-linecap="butt"/>
<polyline points="48.40,219.45 67.10,237.39 85.20,263.31 103.60,274.88" fill="none" stroke="#666" stroke-width="1.1"/>
<polyline points="48.40,219.45 67.10,226.63 85.20,246.56 103.60,253.74" fill="none" stroke="#000" stroke-width="1.1"/>
<circle cx="67.10" cy="226.63" r="2.5" fill="#fff" stroke="#000" stroke-width="0.9"/>
<circle cx="85.20" cy="246.56" r="2.5" fill="#fff" stroke="#000" stroke-width="0.9"/>
<circle cx="103.60" cy="253.74" r="2.5" fill="#fff" stroke="#000" stroke-width="0.9"/>
<circle cx="48.40" cy="219.45" r="2.7" fill="#555"/>
<circle cx="67.10" cy="237.39" r="2.7" fill="#555"/>
<circle cx="85.20" cy="263.31" r="2.7" fill="#555"/>
<circle cx="103.60" cy="274.88" r="2.7" fill="#555"/>
<line x1="45.80" y1="281.40" x2="61.00" y2="281.40" stroke="#000" stroke-width="0.9" stroke-linecap="butt"/>
<circle cx="53.4" cy="281.4" r="1.9" fill="#fff" stroke="#000" stroke-width="0.8"/>
<line x1="45.80" y1="291.00" x2="61.00" y2="291.00" stroke="#666" stroke-width="0.9" stroke-linecap="butt"/>
<circle cx="53.4" cy="291" r="2.3" fill="#555"/>
<line x1="65.40" y1="281.60" x2="68.80" y2="281.60" stroke="#222" stroke-width="0.8" stroke-linecap="butt"/>
<text x="71.50" y="284.38" font-size="8.6" text-anchor="start" font-weight="normal" fill="#111">PD</text>
<line x1="65.40" y1="291.50" x2="68.80" y2="291.50" stroke="#222" stroke-width="0.8" stroke-linecap="butt"/>
<line x1="67.10" y1="289.80" x2="67.10" y2="293.20" stroke="#222" stroke-width="0.8" stroke-linecap="butt"/>
<text x="71.50" y="294.18" font-size="8.6" text-anchor="start" font-weight="normal" fill="#111">PD</text>
<text x="40.30" y="313.46" font-size="9.1" text-anchor="end" font-weight="normal" fill="#111">BTZ (nM)</text>
<text x="48.00" y="313.58" font-size="8.6" text-anchor="middle" font-weight="normal" fill="#111">0</text>
<text x="66.60" y="313.58" font-size="8.6" text-anchor="middle" font-weight="normal" fill="#111">0</text>
<text x="85.20" y="313.58" font-size="8.6" text-anchor="middle" font-weight="normal" fill="#111">4</text>
<text x="103.60" y="313.58" font-size="8.6" text-anchor="middle" font-weight="normal" fill="#111">6</text>
<line x1="41.20" y1="316.10" x2="56.30" y2="316.10" stroke="#000" stroke-width="1.1" stroke-linecap="butt"/>
<line x1="62.60" y1="316.10" x2="107.70" y2="316.10" stroke="#000" stroke-width="1.1" stroke-linecap="butt"/>
<text x="39.20" y="324.97" font-size="9.4" text-anchor="end" font-weight="normal" fill="#111">h</text>
<text x="47.40" y="324.75" font-size="8.8" text-anchor="middle" font-weight="normal" fill="#111">-24</text>
<text x="85.00" y="324.75" font-size="8.8" text-anchor="middle" font-weight="normal" fill="#111">24</text>
<line x1="40.90" y1="327.60" x2="107.70" y2="327.60" stroke="#000" stroke-width="1.1" stroke-linecap="butt"/>
<text x="34.00" y="339.07" font-size="9.7" text-anchor="end" font-weight="normal" fill="#111">MM</text>
<text x="71.20" y="338.97" font-size="9.4" text-anchor="middle" font-weight="normal" fill="#111">5</text>
<line x1="156.70" y1="207.20" x2="156.70" y2="322.70" stroke="#000" stroke-width="1" stroke-linecap="butt"/>
<line x1="153.70" y1="322.70" x2="156.70" y2="322.70" stroke="#000" stroke-width="0.9" stroke-linecap="butt"/>
<text x="150.30" y="325.14" font-size="8.5" text-anchor="end" font-weight="normal" fill="#111">0</text>
<line x1="153.70" y1="299.57" x2="156.70" y2="299.57" stroke="#000" stroke-width="0.9" stroke-linecap="butt"/>
<text x="150.30" y="302.01" font-size="8.5" text-anchor="end" font-weight="normal" fill="#111">20</text>
<line x1="153.70" y1="276.44" x2="156.70" y2="276.44" stroke="#000" stroke-width="0.9" stroke-linecap="butt"/>
<text x="150.30" y="278.88" font-size="8.5" text-anchor="end" font-weight="normal" fill="#111">40</text>
<line x1="153.70" y1="253.31" x2="156.70" y2="253.31" stroke="#000" stroke-width="0.9" stroke-linecap="butt"/>
<text x="150.30" y="255.75" font-size="8.5" text-anchor="end" font-weight="normal" fill="#111">60</text>
<line x1="153.70" y1="230.18" x2="156.70" y2="230.18" stroke="#000" stroke-width="0.9" stroke-linecap="butt"/>
<text x="150.30" y="232.62" font-size="8.5" text-anchor="end" font-weight="normal" fill="#111">80</text>
<line x1="153.70" y1="207.05" x2="156.70" y2="207.05" stroke="#000" stroke-width="0.9" stroke-linecap="butt"/>
<text x="150.30" y="209.49" font-size="8.5" text-anchor="end" font-weight="normal" fill="#111">100</text>
<g transform="translate(128.80 264.50) rotate(-90)"><text x="0" y="3.54" font-size="9.9" text-anchor="middle" fill="#111">Viable cells (% input)</text></g>
<text x="181.70" y="200.02" font-size="10.4" text-anchor="middle" font-weight="normal" fill="#111">4 h</text>
<line x1="159.80" y1="204.20" x2="201.30" y2="204.20" stroke="#000" stroke-width="1.2" stroke-linecap="butt"/>
<text x="230.70" y="200.02" font-size="10.4" text-anchor="middle" font-weight="normal" fill="#111">24 h</text>
<line x1="210.00" y1="204.20" x2="251.30" y2="204.20" stroke="#000" stroke-width="1.2" stroke-linecap="butt"/>
<line x1="162.30" y1="255.70" x2="162.30" y2="260.00" stroke="#000" stroke-width="0.9" stroke-linecap="butt"/>
<line x1="159.50" y1="255.70" x2="165.10" y2="255.70" stroke="#000" stroke-width="0.9" stroke-linecap="butt"/>
<rect x="159.90" y="260.40" width="4.80" height="62.30" fill="#fff" stroke="#000" stroke-width="0.9"/>
<line x1="171.40" y1="255.70" x2="171.40" y2="261.20" stroke="#000" stroke-width="0.9" stroke-linecap="butt"/>
<line x1="168.60" y1="255.70" x2="174.20" y2="255.70" stroke="#000" stroke-width="0.9" stroke-linecap="butt"/>
<rect x="169.00" y="261.60" width="4.80" height="61.10" fill="#fff" stroke="#000" stroke-width="0.9"/>
<line x1="183.45" y1="265.00" x2="183.45" y2="266.20" stroke="#000" stroke-width="0.9" stroke-linecap="butt"/>
<line x1="180.65" y1="265.00" x2="186.25" y2="265.00" stroke="#000" stroke-width="0.9" stroke-linecap="butt"/>
<rect x="180.60" y="266.20" width="5.70" height="56.50" fill="#000"/>
<line x1="192.30" y1="259.50" x2="192.30" y2="265.70" stroke="#000" stroke-width="0.9" stroke-linecap="butt"/>
<line x1="189.50" y1="259.50" x2="195.10" y2="259.50" stroke="#000" stroke-width="0.9" stroke-linecap="butt"/>
<rect x="189.50" y="265.70" width="5.60" height="57.00" fill="#000"/>
<line x1="156.20" y1="322.70" x2="197.00" y2="322.70" stroke="#000" stroke-width="1.5" stroke-linecap="butt"/>
<line x1="160.10" y1="332.30" x2="164.70" y2="332.30" stroke="#111" stroke-width="1.1" stroke-linecap="butt"/>
<line x1="169.10" y1="332.30" x2="173.70" y2="332.30" stroke="#111" stroke-width="1.1" stroke-linecap="butt"/>
<line x1="180.90" y1="332.30" x2="185.70" y2="332.30" stroke="#111" stroke-width="1.1" stroke-linecap="butt"/>
<line x1="183.30" y1="329.90" x2="183.30" y2="334.70" stroke="#111" stroke-width="1.1" stroke-linecap="butt"/>
<line x1="189.80" y1="332.30" x2="194.60" y2="332.30" stroke="#111" stroke-width="1.1" stroke-linecap="butt"/>
<line x1="192.20" y1="329.90" x2="192.20" y2="334.70" stroke="#111" stroke-width="1.1" stroke-linecap="butt"/>
<text x="162.40" y="345.46" font-size="9.1" text-anchor="middle" font-weight="normal" fill="#111">0</text>
<text x="171.40" y="345.46" font-size="9.1" text-anchor="middle" font-weight="normal" fill="#111">4</text>
<text x="183.30" y="345.46" font-size="9.1" text-anchor="middle" font-weight="normal" fill="#111">0</text>
<text x="192.20" y="345.46" font-size="9.1" text-anchor="middle" font-weight="normal" fill="#111">4</text>
<line x1="160.00" y1="348.40" x2="195.50" y2="348.40" stroke="#000" stroke-width="1.1" stroke-linecap="butt"/>
<text x="177.60" y="358.87" font-size="9.4" text-anchor="middle" font-weight="normal" fill="#111">8</text>
<text x="183.20" y="245.63" font-size="6.8" text-anchor="middle" font-weight="normal" fill="#222">p=0.763</text>
<path d="M171.30 254.80V250.30H192.40V254.80" fill="none" stroke="#585858" stroke-width="0.8"/>
<line x1="212.80" y1="261.80" x2="212.80" y2="265.70" stroke="#000" stroke-width="0.9" stroke-linecap="butt"/>
<line x1="210.00" y1="261.80" x2="215.60" y2="261.80" stroke="#000" stroke-width="0.9" stroke-linecap="butt"/>
<rect x="210.40" y="266.10" width="4.80" height="56.60" fill="#fff" stroke="#000" stroke-width="0.9"/>
<line x1="222.05" y1="272.80" x2="222.05" y2="277.30" stroke="#000" stroke-width="0.9" stroke-linecap="butt"/>
<line x1="219.25" y1="272.80" x2="224.85" y2="272.80" stroke="#000" stroke-width="0.9" stroke-linecap="butt"/>
<rect x="219.60" y="277.70" width="4.90" height="45.00" fill="#fff" stroke="#000" stroke-width="0.9"/>
<line x1="234.00" y1="267.50" x2="234.00" y2="271.20" stroke="#000" stroke-width="0.9" stroke-linecap="butt"/>
<line x1="231.20" y1="267.50" x2="236.80" y2="267.50" stroke="#000" stroke-width="0.9" stroke-linecap="butt"/>
<rect x="231.20" y="271.20" width="5.60" height="51.50" fill="#000"/>
<line x1="242.60" y1="300.70" x2="242.60" y2="302.50" stroke="#000" stroke-width="0.9" stroke-linecap="butt"/>
<line x1="239.80" y1="300.70" x2="245.40" y2="300.70" stroke="#000" stroke-width="0.9" stroke-linecap="butt"/>
<rect x="240.00" y="302.50" width="5.20" height="20.20" fill="#000"/>
<line x1="209.00" y1="322.70" x2="247.40" y2="322.70" stroke="#000" stroke-width="1.5" stroke-linecap="butt"/>
<line x1="210.50" y1="332.30" x2="215.10" y2="332.30" stroke="#111" stroke-width="1.1" stroke-linecap="butt"/>
<line x1="219.70" y1="332.30" x2="224.30" y2="332.30" stroke="#111" stroke-width="1.1" stroke-linecap="butt"/>
<line x1="231.60" y1="332.30" x2="236.40" y2="332.30" stroke="#111" stroke-width="1.1" stroke-linecap="butt"/>
<line x1="234.00" y1="329.90" x2="234.00" y2="334.70" stroke="#111" stroke-width="1.1" stroke-linecap="butt"/>
<line x1="240.40" y1="332.30" x2="245.20" y2="332.30" stroke="#111" stroke-width="1.1" stroke-linecap="butt"/>
<line x1="242.80" y1="329.90" x2="242.80" y2="334.70" stroke="#111" stroke-width="1.1" stroke-linecap="butt"/>
<text x="212.80" y="345.46" font-size="9.1" text-anchor="middle" font-weight="normal" fill="#111">0</text>
<text x="222.00" y="345.46" font-size="9.1" text-anchor="middle" font-weight="normal" fill="#111">4</text>
<text x="234.00" y="345.46" font-size="9.1" text-anchor="middle" font-weight="normal" fill="#111">0</text>
<text x="242.80" y="345.46" font-size="9.1" text-anchor="middle" font-weight="normal" fill="#111">4</text>
<line x1="210.60" y1="348.40" x2="246.00" y2="348.40" stroke="#000" stroke-width="1.1" stroke-linecap="butt"/>
<text x="228.00" y="359.17" font-size="9.4" text-anchor="middle" font-weight="normal" fill="#111">8</text>
<text x="234.60" y="258.43" font-size="6.8" text-anchor="middle" font-weight="normal" fill="#222">p=0.002</text>
<path d="M221.80 266.00V261.30H242.50V266.00" fill="none" stroke="#585858" stroke-width="0.8"/>
<text x="155.30" y="335.59" font-size="9.2" text-anchor="end" font-weight="normal" fill="#111">PD</text>
<text x="155.30" y="345.46" font-size="9.1" text-anchor="end" font-weight="normal" fill="#111">BTZ (nM)</text>
<text x="155.20" y="358.97" font-size="9.7" text-anchor="end" font-weight="normal" fill="#111">MM</text>
<line x1="293.50" y1="225.50" x2="293.50" y2="333.00" stroke="#000" stroke-width="1" stroke-linecap="butt"/>
<line x1="290.50" y1="333.00" x2="293.50" y2="333.00" stroke="#000" stroke-width="0.9" stroke-linecap="butt"/>
<text x="287.90" y="335.55" font-size="8.8" text-anchor="end" font-weight="normal" fill="#111">0</text>
<line x1="290.50" y1="313.50" x2="293.50" y2="313.50" stroke="#000" stroke-width="0.9" stroke-linecap="butt"/>
<text x="287.90" y="316.05" font-size="8.8" text-anchor="end" font-weight="normal" fill="#111">20</text>
<line x1="290.50" y1="294.00" x2="293.50" y2="294.00" stroke="#000" stroke-width="0.9" stroke-linecap="butt"/>
<text x="287.90" y="296.55" font-size="8.8" text-anchor="end" font-weight="normal" fill="#111">40</text>
<line x1="290.50" y1="274.50" x2="293.50" y2="274.50" stroke="#000" stroke-width="0.9" stroke-linecap="butt"/>
<text x="287.90" y="277.05" font-size="8.8" text-anchor="end" font-weight="normal" fill="#111">60</text>
<line x1="290.50" y1="255.00" x2="293.50" y2="255.00" stroke="#000" stroke-width="0.9" stroke-linecap="butt"/>
<text x="287.90" y="257.55" font-size="8.8" text-anchor="end" font-weight="normal" fill="#111">80</text>
<line x1="290.50" y1="235.50" x2="293.50" y2="235.50" stroke="#000" stroke-width="0.9" stroke-linecap="butt"/>
<text x="287.90" y="238.05" font-size="8.8" text-anchor="end" font-weight="normal" fill="#111">100</text>
<line x1="293.00" y1="333.00" x2="370.80" y2="333.00" stroke="#000" stroke-width="1.3" stroke-linecap="butt"/>
<line x1="304.60" y1="333.00" x2="304.60" y2="335.50" stroke="#000" stroke-width="0.9" stroke-linecap="butt"/>
<line x1="326.40" y1="333.00" x2="326.40" y2="335.50" stroke="#000" stroke-width="0.9" stroke-linecap="butt"/>
<line x1="347.20" y1="333.00" x2="347.20" y2="335.50" stroke="#000" stroke-width="0.9" stroke-linecap="butt"/>
<line x1="369.00" y1="333.00" x2="369.00" y2="335.50" stroke="#000" stroke-width="0.9" stroke-linecap="butt"/>
<g transform="translate(265.20 281.20) rotate(-90)"><text x="0" y="3.54" font-size="9.9" text-anchor="middle" fill="#111">Viable cells (% input)</text></g>
<text x="291.00" y="345.24" font-size="9.6" text-anchor="end" font-weight="normal" fill="#111">h</text>
<text x="304.20" y="345.06" font-size="9.1" text-anchor="middle" font-weight="normal" fill="#111">-24</text>
<text x="326.40" y="345.06" font-size="9.1" text-anchor="middle" font-weight="normal" fill="#111">0</text>
<text x="347.00" y="345.06" font-size="9.1" text-anchor="middle" font-weight="normal" fill="#111">24</text>
<text x="368.80" y="345.06" font-size="9.1" text-anchor="middle" font-weight="normal" fill="#111">48</text>
<line x1="347.20" y1="267.50" x2="347.20" y2="271.38" stroke="#333" stroke-width="0.7" stroke-linecap="butt"/>
<line x1="344.80" y1="267.50" x2="349.60" y2="267.50" stroke="#333" stroke-width="0.7" stroke-linecap="butt"/>
<line x1="369.00" y1="280.50" x2="369.00" y2="284.54" stroke="#333" stroke-width="0.7" stroke-linecap="butt"/>
<line x1="366.60" y1="280.50" x2="371.40" y2="280.50" stroke="#333" stroke-width="0.7" stroke-linecap="butt"/>
<line x1="326.40" y1="275.70" x2="326.40" y2="280.35" stroke="#333" stroke-width="0.7" stroke-linecap="butt"/>
<line x1="324.00" y1="275.70" x2="328.80" y2="275.70" stroke="#333" stroke-width="0.7" stroke-linecap="butt"/>
<line x1="347.20" y1="277.30" x2="347.20" y2="282.79" stroke="#333" stroke-width="0.7" stroke-linecap="butt"/>
<line x1="344.80" y1="277.30" x2="349.60" y2="277.30" stroke="#333" stroke-width="0.7" stroke-linecap="butt"/>
<polyline points="304.60,234.82 326.40,279.67 347.20,271.38 369.00,284.54" fill="none" stroke="#000" stroke-width="1"/>
<polyline points="304.60,235.21 326.40,285.23 347.20,287.76 369.00,288.93" fill="none" stroke="#000" stroke-width="1"/>
<polyline points="304.60,235.21 326.40,280.35 347.20,282.79 369.00,294.78" fill="none" stroke="#000" stroke-width="1"/>
<polyline points="304.60,235.21 326.40,285.52 347.20,292.34 369.00,315.45" fill="none" stroke="#000" stroke-width="1"/>
<circle cx="304.60" cy="234.82" r="2.7" fill="#fff" stroke="#000" stroke-width="0.9"/>
<circle cx="326.40" cy="279.67" r="2.7" fill="#fff" stroke="#000" stroke-width="0.9"/>
<circle cx="347.20" cy="271.38" r="2.7" fill="#fff" stroke="#000" stroke-width="0.9"/>
<circle cx="369.00" cy="284.54" r="2.7" fill="#fff" stroke="#000" stroke-width="0.9"/>
<path d="M326.40 276.85L329.55 282.52H323.25Z" fill="#fff" stroke="#000" stroke-width="0.9" stroke-linejoin="miter"/>
<path d="M347.20 279.29L350.35 284.96H344.05Z" fill="#fff" stroke="#000" stroke-width="0.9" stroke-linejoin="miter"/>
<path d="M369.00 291.28L372.15 296.95H365.85Z" fill="#fff" stroke="#000" stroke-width="0.9" stroke-linejoin="miter"/>
<circle cx="304.60" cy="235.21" r="2.7" fill="#000" stroke="#000" stroke-width="0.9"/>
<circle cx="326.40" cy="285.23" r="2.7" fill="#000" stroke="#000" stroke-width="0.9"/>
<circle cx="347.20" cy="287.76" r="2.7" fill="#000" stroke="#000" stroke-width="0.9"/>
<circle cx="369.00" cy="288.93" r="2.7" fill="#000" stroke="#000" stroke-width="0.9"/>
<path d="M326.40 282.02L329.55 287.69H323.25Z" fill="#000" stroke="#000" stroke-width="0.9" stroke-linejoin="miter"/>
<path d="M347.20 288.84L350.35 294.51H344.05Z" fill="#000" stroke="#000" stroke-width="0.9" stroke-linejoin="miter"/>
<path d="M369.00 311.95L372.15 317.62H365.85Z" fill="#000" stroke="#000" stroke-width="0.9" stroke-linejoin="miter"/>
<line x1="315.50" y1="203.00" x2="334.30" y2="203.00" stroke="#000" stroke-width="0.9" stroke-linecap="butt"/>
<circle cx="325.00" cy="203.00" r="2.5" fill="#fff" stroke="#000" stroke-width="0.9"/>
<text x="336.30" y="206.10" font-size="8.1" text-anchor="start" font-weight="normal" fill="#111">CNTL</text>
<line x1="315.50" y1="213.00" x2="334.30" y2="213.00" stroke="#000" stroke-width="0.9" stroke-linecap="butt"/>
<circle cx="325.00" cy="213.00" r="2.6" fill="#000" stroke="#000" stroke-width="0.9"/>
<text x="336.30" y="216.10" font-size="8.1" text-anchor="start" font-weight="normal" fill="#111">PD</text>
<line x1="315.50" y1="222.90" x2="334.30" y2="222.90" stroke="#000" stroke-width="0.9" stroke-linecap="butt"/>
<path d="M325.00 219.60L327.97 224.95H322.03Z" fill="#fff" stroke="#000" stroke-width="0.9" stroke-linejoin="miter"/>
<text x="336.30" y="226.00" font-size="8.1" text-anchor="start" font-weight="normal" fill="#111">BTZ</text>
<line x1="315.50" y1="232.90" x2="334.30" y2="232.90" stroke="#000" stroke-width="0.9" stroke-linecap="butt"/>
<path d="M325.00 229.60L327.97 234.95H322.03Z" fill="#000" stroke="#000" stroke-width="0.9" stroke-linejoin="miter"/>
<text x="336.30" y="236.00" font-size="8.1" text-anchor="start" font-weight="normal" fill="#111">PD + BTZ</text>
<text x="440.60" y="238.48" font-size="8.6" text-anchor="middle" font-weight="normal" fill="#111">0 nM BTZ</text>
<text x="492.40" y="238.48" font-size="8.6" text-anchor="middle" font-weight="normal" fill="#111">4 nM BTZ</text>
<rect x="412.30" y="240.70" width="49.50" height="38.20" fill="#fff" stroke="#8a8a8a" stroke-width="0.8"/>
<path d="M412.80 278.90L414.20 277.60L418.00 275.70L420.90 272.80L422.80 268.00L424.30 263.30L425.60 261.40L427.00 263.30L428.50 266.10L430.40 269.40L432.30 270.50L434.20 272.80L437.10 275.10L439.00 276.20L440.90 274.30L443.80 273.80L446.60 275.10L449.50 274.30L452.30 272.80L455.20 273.80L458.10 275.70L460.50 277.60L461.30 278.90Z" fill="#2e2e2e"/>
<line x1="412.30" y1="240.70" x2="412.30" y2="278.90" stroke="#111" stroke-width="1.4" stroke-linecap="butt"/>
<line x1="412.30" y1="278.90" x2="461.80" y2="278.90" stroke="#111" stroke-width="1.3" stroke-linecap="butt"/>
<line x1="412.30" y1="271.40" x2="413.80" y2="271.40" stroke="#333" stroke-width="0.6" stroke-linecap="butt"/>
<line x1="412.30" y1="263.90" x2="413.80" y2="263.90" stroke="#333" stroke-width="0.6" stroke-linecap="butt"/>
<line x1="412.30" y1="256.40" x2="413.80" y2="256.40" stroke="#333" stroke-width="0.6" stroke-linecap="butt"/>
<line x1="412.30" y1="248.90" x2="413.80" y2="248.90" stroke="#333" stroke-width="0.6" stroke-linecap="butt"/>
<rect x="464.20" y="240.70" width="50.00" height="38.20" fill="#fff" stroke="#8a8a8a" stroke-width="0.8"/>
<path d="M464.70 278.90L465.50 278.10L468.40 277.00L471.20 276.20L472.60 273.80L474.10 269.90L475.60 266.10L477.00 261.40L478.30 264.20L479.40 262.30L480.80 265.20L482.10 263.30L483.20 266.10L484.60 264.20L485.90 269.90L487.40 271.90L489.30 274.30L492.20 275.70L494.10 274.30L496.00 271.90L497.90 274.30L500.80 275.10L503.60 273.20L505.50 270.90L507.40 273.80L510.30 276.20L513.20 277.90L513.70 278.90Z" fill="#2e2e2e"/>
<line x1="464.20" y1="240.70" x2="464.20" y2="278.90" stroke="#111" stroke-width="1.4" stroke-linecap="butt"/>
<line x1="464.20" y1="278.90" x2="514.20" y2="278.90" stroke="#111" stroke-width="1.3" stroke-linecap="butt"/>
<line x1="464.20" y1="271.40" x2="465.70" y2="271.40" stroke="#333" stroke-width="0.6" stroke-linecap="butt"/>
<line x1="464.20" y1="263.90" x2="465.70" y2="263.90" stroke="#333" stroke-width="0.6" stroke-linecap="butt"/>
<line x1="464.20" y1="256.40" x2="465.70" y2="256.40" stroke="#333" stroke-width="0.6" stroke-linecap="butt"/>
<line x1="464.20" y1="248.90" x2="465.70" y2="248.90" stroke="#333" stroke-width="0.6" stroke-linecap="butt"/>
<rect x="412.30" y="281.20" width="49.50" height="37.20" fill="#fff" stroke="#8a8a8a" stroke-width="0.8"/>
<path d="M412.80 318.40L414.20 317.40L418.00 315.50L420.90 313.60L422.80 308.90L424.30 305.10L425.80 302.80L427.00 305.10L428.50 307.40L430.40 309.80L432.30 310.80L435.20 313.10L438.00 313.60L440.90 311.70L443.80 311.20L446.60 312.30L449.50 311.70L451.40 312.70L453.30 313.10L456.20 314.60L459.00 316.90L460.90 317.80L461.30 318.40Z" fill="#2e2e2e"/>
<line x1="412.30" y1="281.20" x2="412.30" y2="318.40" stroke="#111" stroke-width="1.4" stroke-linecap="butt"/>
<line x1="412.30" y1="318.40" x2="461.80" y2="318.40" stroke="#111" stroke-width="1.3" stroke-linecap="butt"/>
<line x1="412.30" y1="310.90" x2="413.80" y2="310.90" stroke="#333" stroke-width="0.6" stroke-linecap="butt"/>
<line x1="412.30" y1="303.40" x2="413.80" y2="303.40" stroke="#333" stroke-width="0.6" stroke-linecap="butt"/>
<line x1="412.30" y1="295.90" x2="413.80" y2="295.90" stroke="#333" stroke-width="0.6" stroke-linecap="butt"/>
<line x1="412.30" y1="288.40" x2="413.80" y2="288.40" stroke="#333" stroke-width="0.6" stroke-linecap="butt"/>
<rect x="464.20" y="281.20" width="50.00" height="37.20" fill="#fff" stroke="#8a8a8a" stroke-width="0.8"/>
<path d="M464.70 318.40L465.50 317.80L468.40 316.50L471.20 315.50L473.20 313.60L475.10 310.80L476.00 307.00L477.20 309.80L478.30 307.90L479.80 310.40L481.30 308.90L482.90 311.20L484.60 312.30L486.50 313.10L488.40 313.80L490.30 311.70L491.60 308.90L493.20 307.40L495.10 308.50L497.00 307.90L499.20 308.90L501.70 308.50L503.60 309.80L505.50 310.80L506.90 314.60L509.30 316.90L513.20 318.00L513.70 318.40Z" fill="#2e2e2e"/>
<line x1="464.20" y1="281.20" x2="464.20" y2="318.40" stroke="#111" stroke-width="1.4" stroke-linecap="butt"/>
<line x1="464.20" y1="318.40" x2="514.20" y2="318.40" stroke="#111" stroke-width="1.3" stroke-linecap="butt"/>
<line x1="464.20" y1="310.90" x2="465.70" y2="310.90" stroke="#333" stroke-width="0.6" stroke-linecap="butt"/>
<line x1="464.20" y1="303.40" x2="465.70" y2="303.40" stroke="#333" stroke-width="0.6" stroke-linecap="butt"/>
<line x1="464.20" y1="295.90" x2="465.70" y2="295.90" stroke="#333" stroke-width="0.6" stroke-linecap="butt"/>
<line x1="464.20" y1="288.40" x2="465.70" y2="288.40" stroke="#333" stroke-width="0.6" stroke-linecap="butt"/>
<line x1="437.80" y1="263.80" x2="461.50" y2="263.80" stroke="#444" stroke-width="0.7" stroke-linecap="butt"/>
<line x1="437.80" y1="261.60" x2="437.80" y2="266.00" stroke="#444" stroke-width="0.7" stroke-linecap="butt"/>
<line x1="461.50" y1="261.60" x2="461.50" y2="266.00" stroke="#444" stroke-width="0.7" stroke-linecap="butt"/>
<text x="449.40" y="260.84" font-size="8.2" text-anchor="middle" font-weight="normal" fill="#111">24.5</text>
<line x1="490.00" y1="263.80" x2="513.50" y2="263.80" stroke="#444" stroke-width="0.7" stroke-linecap="butt"/>
<line x1="490.00" y1="261.60" x2="490.00" y2="266.00" stroke="#444" stroke-width="0.7" stroke-linecap="butt"/>
<line x1="513.50" y1="261.60" x2="513.50" y2="266.00" stroke="#444" stroke-width="0.7" stroke-linecap="butt"/>
<text x="501.90" y="260.84" font-size="8.2" text-anchor="middle" font-weight="normal" fill="#111">25.3</text>
<line x1="437.80" y1="302.70" x2="461.50" y2="302.70" stroke="#444" stroke-width="0.7" stroke-linecap="butt"/>
<line x1="437.80" y1="300.50" x2="437.80" y2="304.90" stroke="#444" stroke-width="0.7" stroke-linecap="butt"/>
<line x1="461.50" y1="300.50" x2="461.50" y2="304.90" stroke="#444" stroke-width="0.7" stroke-linecap="butt"/>
<text x="449.40" y="300.64" font-size="8.2" text-anchor="middle" font-weight="normal" fill="#111">30.2</text>
<line x1="490.00" y1="302.70" x2="513.50" y2="302.70" stroke="#444" stroke-width="0.7" stroke-linecap="butt"/>
<line x1="490.00" y1="300.50" x2="490.00" y2="304.90" stroke="#444" stroke-width="0.7" stroke-linecap="butt"/>
<line x1="513.50" y1="300.50" x2="513.50" y2="304.90" stroke="#444" stroke-width="0.7" stroke-linecap="butt"/>
<text x="501.90" y="300.64" font-size="8.2" text-anchor="middle" font-weight="normal" fill="#111">51.4</text>
<line x1="382.20" y1="260.00" x2="385.60" y2="260.00" stroke="#222" stroke-width="0.85" stroke-linecap="butt"/>
<text x="389.30" y="262.95" font-size="8.8" text-anchor="start" font-weight="normal" fill="#111">PD</text>
<line x1="382.40" y1="299.60" x2="386.00" y2="299.60" stroke="#222" stroke-width="0.85" stroke-linecap="butt"/>
<line x1="384.20" y1="297.80" x2="384.20" y2="301.40" stroke="#222" stroke-width="0.85" stroke-linecap="butt"/>
<text x="389.30" y="302.55" font-size="8.8" text-anchor="start" font-weight="normal" fill="#111">PD</text>
<g transform="translate(404.80 289.20) rotate(-90)"><text x="0" y="3.44" font-size="9.6" text-anchor="middle" fill="#111">Cell count</text></g>
<path d="M405.6 312.5V324.1H419.5" fill="none" stroke="#222" stroke-width="0.8"/>
<path d="M405.6 309.6L403.7 313.8H407.5Z" fill="#222"/>
<path d="M422.7 324.1L418.5 322.2V326Z" fill="#222"/>
<text x="425.40" y="328.28" font-size="8.6" text-anchor="start" font-weight="normal" fill="#111">ToPro-3</text>
<line x1="62.80" y1="397.40" x2="62.80" y2="513.00" stroke="#000" stroke-width="1" stroke-linecap="butt"/>
<line x1="59.80" y1="513.00" x2="62.80" y2="513.00" stroke="#000" stroke-width="0.9" stroke-linecap="butt"/>
<text x="58.50" y="515.41" font-size="8.4" text-anchor="end" font-weight="normal" fill="#111">0</text>
<line x1="59.80" y1="489.90" x2="62.80" y2="489.90" stroke="#000" stroke-width="0.9" stroke-linecap="butt"/>
<text x="58.50" y="492.31" font-size="8.4" text-anchor="end" font-weight="normal" fill="#111">20</text>
<line x1="59.80" y1="466.80" x2="62.80" y2="466.80" stroke="#000" stroke-width="0.9" stroke-linecap="butt"/>
<text x="58.50" y="469.21" font-size="8.4" text-anchor="end" font-weight="normal" fill="#111">40</text>
<line x1="59.80" y1="443.70" x2="62.80" y2="443.70" stroke="#000" stroke-width="0.9" stroke-linecap="butt"/>
<text x="58.50" y="446.11" font-size="8.4" text-anchor="end" font-weight="normal" fill="#111">60</text>
<line x1="59.80" y1="420.60" x2="62.80" y2="420.60" stroke="#000" stroke-width="0.9" stroke-linecap="butt"/>
<text x="58.50" y="423.01" font-size="8.4" text-anchor="end" font-weight="normal" fill="#111">80</text>
<line x1="59.80" y1="397.50" x2="62.80" y2="397.50" stroke="#000" stroke-width="0.9" stroke-linecap="butt"/>
<text x="58.50" y="399.91" font-size="8.4" text-anchor="end" font-weight="normal" fill="#111">100</text>
<g transform="translate(36.00 455.00) rotate(-90)"><text x="0" y="3.54" font-size="9.9" text-anchor="middle" fill="#111">Viable cells (% input)</text></g>
<text x="89.60" y="389.72" font-size="10.4" text-anchor="middle" font-weight="normal" fill="#111">4 h</text>
<line x1="67.00" y1="393.70" x2="109.30" y2="393.70" stroke="#000" stroke-width="1.2" stroke-linecap="butt"/>
<text x="137.90" y="389.72" font-size="10.4" text-anchor="middle" font-weight="normal" fill="#111">24 h</text>
<line x1="117.50" y1="393.70" x2="159.30" y2="393.70" stroke="#000" stroke-width="1.2" stroke-linecap="butt"/>
<line x1="69.80" y1="423.40" x2="69.80" y2="424.80" stroke="#000" stroke-width="0.9" stroke-linecap="butt"/>
<line x1="67.00" y1="423.40" x2="72.60" y2="423.40" stroke="#000" stroke-width="0.9" stroke-linecap="butt"/>
<rect x="67.40" y="425.20" width="4.80" height="87.80" fill="#fff" stroke="#000" stroke-width="0.9"/>
<line x1="79.00" y1="453.20" x2="79.00" y2="463.00" stroke="#000" stroke-width="0.9" stroke-linecap="butt"/>
<line x1="76.20" y1="453.20" x2="81.80" y2="453.20" stroke="#000" stroke-width="0.9" stroke-linecap="butt"/>
<rect x="76.60" y="463.40" width="4.80" height="49.60" fill="#fff" stroke="#000" stroke-width="0.9"/>
<line x1="90.85" y1="450.00" x2="90.85" y2="456.20" stroke="#000" stroke-width="0.9" stroke-linecap="butt"/>
<line x1="88.05" y1="450.00" x2="93.65" y2="450.00" stroke="#000" stroke-width="0.9" stroke-linecap="butt"/>
<rect x="88.00" y="456.20" width="5.70" height="56.80" fill="#000"/>
<line x1="99.80" y1="487.00" x2="99.80" y2="490.70" stroke="#000" stroke-width="0.9" stroke-linecap="butt"/>
<line x1="97.00" y1="487.00" x2="102.60" y2="487.00" stroke="#000" stroke-width="0.9" stroke-linecap="butt"/>
<rect x="97.00" y="490.70" width="5.60" height="22.30" fill="#000"/>
<line x1="62.60" y1="513.00" x2="103.20" y2="513.00" stroke="#000" stroke-width="1.5" stroke-linecap="butt"/>
<line x1="67.30" y1="521.80" x2="71.90" y2="521.80" stroke="#111" stroke-width="1.1" stroke-linecap="butt"/>
<line x1="76.50" y1="521.80" x2="81.10" y2="521.80" stroke="#111" stroke-width="1.1" stroke-linecap="butt"/>
<line x1="88.40" y1="521.80" x2="93.20" y2="521.80" stroke="#111" stroke-width="1.1" stroke-linecap="butt"/>
<line x1="90.80" y1="519.40" x2="90.80" y2="524.20" stroke="#111" stroke-width="1.1" stroke-linecap="butt"/>
<line x1="97.40" y1="521.80" x2="102.20" y2="521.80" stroke="#111" stroke-width="1.1" stroke-linecap="butt"/>
<line x1="99.80" y1="519.40" x2="99.80" y2="524.20" stroke="#111" stroke-width="1.1" stroke-linecap="butt"/>
<text x="69.60" y="535.06" font-size="9.1" text-anchor="middle" font-weight="normal" fill="#111">0</text>
<text x="78.80" y="535.06" font-size="9.1" text-anchor="middle" font-weight="normal" fill="#111">8</text>
<text x="90.80" y="535.06" font-size="9.1" text-anchor="middle" font-weight="normal" fill="#111">0</text>
<text x="99.80" y="535.06" font-size="9.1" text-anchor="middle" font-weight="normal" fill="#111">8</text>
<line x1="67.20" y1="538.30" x2="102.80" y2="538.30" stroke="#000" stroke-width="1.1" stroke-linecap="butt"/>
<text x="85.00" y="547.87" font-size="9.4" text-anchor="middle" font-weight="normal" fill="#111">1</text>
<text x="90.40" y="437.23" font-size="6.8" text-anchor="middle" font-weight="normal" fill="#222">p=0.038</text>
<path d="M78.80 445.30V440.50H99.60V445.30" fill="none" stroke="#585858" stroke-width="0.8"/>
<line x1="123.10" y1="449.40" x2="123.10" y2="454.20" stroke="#000" stroke-width="0.9" stroke-linecap="butt"/>
<line x1="120.30" y1="449.40" x2="125.90" y2="449.40" stroke="#000" stroke-width="0.9" stroke-linecap="butt"/>
<rect x="120.80" y="454.60" width="4.60" height="58.40" fill="#fff" stroke="#000" stroke-width="0.9"/>
<line x1="132.25" y1="483.00" x2="132.25" y2="488.00" stroke="#000" stroke-width="0.9" stroke-linecap="butt"/>
<line x1="129.45" y1="483.00" x2="135.05" y2="483.00" stroke="#000" stroke-width="0.9" stroke-linecap="butt"/>
<rect x="129.90" y="488.40" width="4.70" height="24.60" fill="#fff" stroke="#000" stroke-width="0.9"/>
<line x1="144.00" y1="463.70" x2="144.00" y2="468.00" stroke="#000" stroke-width="0.9" stroke-linecap="butt"/>
<line x1="141.20" y1="463.70" x2="146.80" y2="463.70" stroke="#000" stroke-width="0.9" stroke-linecap="butt"/>
<rect x="141.20" y="468.00" width="5.60" height="45.00" fill="#000"/>
<line x1="153.10" y1="500.60" x2="153.10" y2="502.00" stroke="#000" stroke-width="0.9" stroke-linecap="butt"/>
<line x1="150.30" y1="500.60" x2="155.90" y2="500.60" stroke="#000" stroke-width="0.9" stroke-linecap="butt"/>
<rect x="150.40" y="502.00" width="5.40" height="11.00" fill="#000"/>
<line x1="117.50" y1="513.00" x2="156.80" y2="513.00" stroke="#000" stroke-width="1.5" stroke-linecap="butt"/>
<line x1="120.70" y1="521.80" x2="125.30" y2="521.80" stroke="#111" stroke-width="1.1" stroke-linecap="butt"/>
<line x1="129.70" y1="521.80" x2="134.30" y2="521.80" stroke="#111" stroke-width="1.1" stroke-linecap="butt"/>
<line x1="141.60" y1="521.80" x2="146.40" y2="521.80" stroke="#111" stroke-width="1.1" stroke-linecap="butt"/>
<line x1="144.00" y1="519.40" x2="144.00" y2="524.20" stroke="#111" stroke-width="1.1" stroke-linecap="butt"/>
<line x1="150.40" y1="521.80" x2="155.20" y2="521.80" stroke="#111" stroke-width="1.1" stroke-linecap="butt"/>
<line x1="152.80" y1="519.40" x2="152.80" y2="524.20" stroke="#111" stroke-width="1.1" stroke-linecap="butt"/>
<text x="123.00" y="535.06" font-size="9.1" text-anchor="middle" font-weight="normal" fill="#111">0</text>
<text x="132.00" y="535.06" font-size="9.1" text-anchor="middle" font-weight="normal" fill="#111">8</text>
<text x="144.00" y="535.06" font-size="9.1" text-anchor="middle" font-weight="normal" fill="#111">0</text>
<text x="152.80" y="535.06" font-size="9.1" text-anchor="middle" font-weight="normal" fill="#111">8</text>
<line x1="120.20" y1="538.30" x2="156.20" y2="538.30" stroke="#000" stroke-width="1.1" stroke-linecap="butt"/>
<text x="138.40" y="547.87" font-size="9.4" text-anchor="middle" font-weight="normal" fill="#111">1</text>
<text x="144.00" y="453.71" font-size="7" text-anchor="middle" font-weight="normal" fill="#222">p=0.03*</text>
<path d="M131.80 461.60V456.80H152.60V461.60" fill="none" stroke="#585858" stroke-width="0.8"/>
<text x="62.40" y="525.37" font-size="9.4" text-anchor="end" font-weight="normal" fill="#111">PD</text>
<text x="62.40" y="535.26" font-size="9.1" text-anchor="end" font-weight="normal" fill="#111">BTZ (nM)</text>
<text x="62.20" y="547.60" font-size="9.5" text-anchor="end" font-weight="normal" fill="#111">MM</text>
<line x1="187.60" y1="397.00" x2="187.60" y2="513.00" stroke="#000" stroke-width="1" stroke-linecap="butt"/>
<line x1="184.60" y1="513.00" x2="187.60" y2="513.00" stroke="#000" stroke-width="0.9" stroke-linecap="butt"/>
<text x="182.20" y="515.48" font-size="8.6" text-anchor="end" font-weight="normal" fill="#111">0</text>
<line x1="184.60" y1="486.05" x2="187.60" y2="486.05" stroke="#000" stroke-width="0.9" stroke-linecap="butt"/>
<text x="182.20" y="488.53" font-size="8.6" text-anchor="end" font-weight="normal" fill="#111">10</text>
<line x1="184.60" y1="459.10" x2="187.60" y2="459.10" stroke="#000" stroke-width="0.9" stroke-linecap="butt"/>
<text x="182.20" y="461.58" font-size="8.6" text-anchor="end" font-weight="normal" fill="#111">20</text>
<line x1="184.60" y1="432.15" x2="187.60" y2="432.15" stroke="#000" stroke-width="0.9" stroke-linecap="butt"/>
<text x="182.20" y="434.63" font-size="8.6" text-anchor="end" font-weight="normal" fill="#111">30</text>
<line x1="184.60" y1="405.20" x2="187.60" y2="405.20" stroke="#000" stroke-width="0.9" stroke-linecap="butt"/>
<text x="182.20" y="407.68" font-size="8.6" text-anchor="end" font-weight="normal" fill="#111">40</text>
<text x="212.70" y="389.72" font-size="10.4" text-anchor="middle" font-weight="normal" fill="#111">4 h</text>
<line x1="191.20" y1="393.70" x2="232.60" y2="393.70" stroke="#000" stroke-width="1.2" stroke-linecap="butt"/>
<text x="261.90" y="389.72" font-size="10.4" text-anchor="middle" font-weight="normal" fill="#111">24 h</text>
<line x1="241.30" y1="393.70" x2="282.60" y2="393.70" stroke="#000" stroke-width="1.2" stroke-linecap="butt"/>
<line x1="192.80" y1="399.50" x2="192.80" y2="406.20" stroke="#000" stroke-width="0.9" stroke-linecap="butt"/>
<line x1="190.00" y1="399.50" x2="195.60" y2="399.50" stroke="#000" stroke-width="0.9" stroke-linecap="butt"/>
<rect x="190.40" y="406.60" width="4.80" height="106.40" fill="#fff" stroke="#000" stroke-width="0.9"/>
<line x1="201.80" y1="415.00" x2="201.80" y2="423.00" stroke="#000" stroke-width="0.9" stroke-linecap="butt"/>
<line x1="199.00" y1="415.00" x2="204.60" y2="415.00" stroke="#000" stroke-width="0.9" stroke-linecap="butt"/>
<rect x="199.60" y="423.40" width="4.40" height="89.60" fill="#fff" stroke="#000" stroke-width="0.9"/>
<line x1="212.80" y1="418.20" x2="212.80" y2="427.50" stroke="#000" stroke-width="0.9" stroke-linecap="butt"/>
<line x1="210.00" y1="418.20" x2="215.60" y2="418.20" stroke="#000" stroke-width="0.9" stroke-linecap="butt"/>
<rect x="210.00" y="427.50" width="5.60" height="85.50" fill="#000"/>
<line x1="221.55" y1="455.70" x2="221.55" y2="460.50" stroke="#000" stroke-width="0.9" stroke-linecap="butt"/>
<line x1="218.75" y1="455.70" x2="224.35" y2="455.70" stroke="#000" stroke-width="0.9" stroke-linecap="butt"/>
<rect x="218.80" y="460.50" width="5.50" height="52.50" fill="#000"/>
<line x1="186.80" y1="513.00" x2="225.20" y2="513.00" stroke="#000" stroke-width="1.5" stroke-linecap="butt"/>
<line x1="190.30" y1="522.20" x2="194.90" y2="522.20" stroke="#111" stroke-width="1.1" stroke-linecap="butt"/>
<line x1="199.10" y1="522.20" x2="203.70" y2="522.20" stroke="#111" stroke-width="1.1" stroke-linecap="butt"/>
<line x1="210.20" y1="522.20" x2="215.00" y2="522.20" stroke="#111" stroke-width="1.1" stroke-linecap="butt"/>
<line x1="212.60" y1="519.80" x2="212.60" y2="524.60" stroke="#111" stroke-width="1.1" stroke-linecap="butt"/>
<line x1="218.90" y1="522.20" x2="223.70" y2="522.20" stroke="#111" stroke-width="1.1" stroke-linecap="butt"/>
<line x1="221.30" y1="519.80" x2="221.30" y2="524.60" stroke="#111" stroke-width="1.1" stroke-linecap="butt"/>
<text x="192.60" y="535.46" font-size="9.1" text-anchor="middle" font-weight="normal" fill="#111">0</text>
<text x="201.40" y="535.46" font-size="9.1" text-anchor="middle" font-weight="normal" fill="#111">4</text>
<text x="212.60" y="535.46" font-size="9.1" text-anchor="middle" font-weight="normal" fill="#111">0</text>
<text x="221.30" y="535.46" font-size="9.1" text-anchor="middle" font-weight="normal" fill="#111">4</text>
<line x1="189.60" y1="538.30" x2="225.00" y2="538.30" stroke="#000" stroke-width="1.1" stroke-linecap="butt"/>
<text x="206.30" y="548.17" font-size="9.4" text-anchor="middle" font-weight="normal" fill="#111">10</text>
<text x="213.00" y="405.43" font-size="6.8" text-anchor="middle" font-weight="normal" fill="#222">p=0.008</text>
<path d="M201.30 413.10V408.60H222.00V413.10" fill="none" stroke="#585858" stroke-width="0.8"/>
<line x1="244.35" y1="415.00" x2="244.35" y2="423.70" stroke="#000" stroke-width="0.9" stroke-linecap="butt"/>
<line x1="241.55" y1="415.00" x2="247.15" y2="415.00" stroke="#000" stroke-width="0.9" stroke-linecap="butt"/>
<rect x="242.00" y="424.10" width="4.70" height="88.90" fill="#fff" stroke="#000" stroke-width="0.9"/>
<line x1="253.15" y1="433.70" x2="253.15" y2="443.00" stroke="#000" stroke-width="0.9" stroke-linecap="butt"/>
<line x1="250.35" y1="433.70" x2="255.95" y2="433.70" stroke="#000" stroke-width="0.9" stroke-linecap="butt"/>
<rect x="250.90" y="443.40" width="4.50" height="69.60" fill="#fff" stroke="#000" stroke-width="0.9"/>
<line x1="264.00" y1="439.20" x2="264.00" y2="448.00" stroke="#000" stroke-width="0.9" stroke-linecap="butt"/>
<line x1="261.20" y1="439.20" x2="266.80" y2="439.20" stroke="#000" stroke-width="0.9" stroke-linecap="butt"/>
<rect x="261.20" y="448.00" width="5.60" height="65.00" fill="#000"/>
<line x1="272.80" y1="474.20" x2="272.80" y2="478.70" stroke="#000" stroke-width="0.9" stroke-linecap="butt"/>
<line x1="270.00" y1="474.20" x2="275.60" y2="474.20" stroke="#000" stroke-width="0.9" stroke-linecap="butt"/>
<rect x="270.00" y="478.70" width="5.60" height="34.30" fill="#000"/>
<line x1="239.50" y1="513.00" x2="276.50" y2="513.00" stroke="#000" stroke-width="1.5" stroke-linecap="butt"/>
<line x1="241.60" y1="522.20" x2="246.20" y2="522.20" stroke="#111" stroke-width="1.1" stroke-linecap="butt"/>
<line x1="250.40" y1="522.20" x2="255.00" y2="522.20" stroke="#111" stroke-width="1.1" stroke-linecap="butt"/>
<line x1="261.40" y1="522.20" x2="266.20" y2="522.20" stroke="#111" stroke-width="1.1" stroke-linecap="butt"/>
<line x1="263.80" y1="519.80" x2="263.80" y2="524.60" stroke="#111" stroke-width="1.1" stroke-linecap="butt"/>
<line x1="270.20" y1="522.20" x2="275.00" y2="522.20" stroke="#111" stroke-width="1.1" stroke-linecap="butt"/>
<line x1="272.60" y1="519.80" x2="272.60" y2="524.60" stroke="#111" stroke-width="1.1" stroke-linecap="butt"/>
<text x="243.90" y="535.46" font-size="9.1" text-anchor="middle" font-weight="normal" fill="#111">0</text>
<text x="252.70" y="535.46" font-size="9.1" text-anchor="middle" font-weight="normal" fill="#111">4</text>
<text x="263.80" y="535.46" font-size="9.1" text-anchor="middle" font-weight="normal" fill="#111">0</text>
<text x="272.60" y="535.46" font-size="9.1" text-anchor="middle" font-weight="normal" fill="#111">4</text>
<line x1="240.80" y1="538.30" x2="276.30" y2="538.30" stroke="#000" stroke-width="1.1" stroke-linecap="butt"/>
<text x="256.80" y="548.17" font-size="9.4" text-anchor="middle" font-weight="normal" fill="#111">10</text>
<text x="263.70" y="423.83" font-size="6.8" text-anchor="middle" font-weight="normal" fill="#222">p=0.018</text>
<path d="M252.00 431.80V427.10H273.00V431.80" fill="none" stroke="#585858" stroke-width="0.8"/>
<text x="322.60" y="392.42" font-size="9" text-anchor="start" font-weight="normal" fill="#111">MM10</text>
<line x1="344.00" y1="415.60" x2="348.60" y2="415.60" stroke="#222" stroke-width="0.9" stroke-linecap="butt"/>
<text x="352.30" y="418.94" font-size="9.9" text-anchor="start" font-weight="normal" fill="#111">PD</text>
<line x1="387.60" y1="415.60" x2="392.40" y2="415.60" stroke="#222" stroke-width="0.9" stroke-linecap="butt"/>
<line x1="390.00" y1="413.20" x2="390.00" y2="418.00" stroke="#222" stroke-width="0.9" stroke-linecap="butt"/>
<text x="396.00" y="418.94" font-size="9.9" text-anchor="start" font-weight="normal" fill="#111">PD</text>
<line x1="332.50" y1="421.40" x2="374.30" y2="421.40" stroke="#000" stroke-width="1.1" stroke-linecap="butt"/>
<line x1="378.80" y1="421.40" x2="421.20" y2="421.40" stroke="#000" stroke-width="1.1" stroke-linecap="butt"/>
<text x="335.80" y="435.26" font-size="9.1" text-anchor="end" font-weight="normal" fill="#111">BTZ (nM)</text>
<text x="345.20" y="435.15" font-size="8.8" text-anchor="middle" font-weight="normal" fill="#111">0</text>
<text x="366.20" y="435.15" font-size="8.8" text-anchor="middle" font-weight="normal" fill="#111">4</text>
<text x="387.50" y="435.15" font-size="8.8" text-anchor="middle" font-weight="normal" fill="#111">0</text>
<text x="407.80" y="435.15" font-size="8.8" text-anchor="middle" font-weight="normal" fill="#111">4</text>
<text x="308.20" y="451.49" font-size="9.2" text-anchor="start" font-weight="normal" fill="#111">IRF4</text>
<text x="308.20" y="470.73" font-size="9.3" text-anchor="start" font-weight="normal" fill="#111">Actin</text>
<defs><filter id="bl" x="-20%" y="-100%" width="140%" height="300%"><feGaussianBlur stdDeviation="1.0 0.7"/></filter></defs>
<rect x="332.4" y="441.6" width="89" height="10.2" fill="#dedede"/>
<rect x="332.4" y="462" width="89" height="9.8" fill="#dedede"/>
<rect x="338.00" y="444.50" width="14.60" height="3.40" rx="1.70" fill="#151515" filter="url(#bl)"/>
<rect x="360.00" y="446.25" width="13.50" height="1.90" rx="0.95" fill="#808080" filter="url(#bl)"/>
<rect x="380.00" y="444.60" width="15.00" height="3.20" rx="1.60" fill="#181818" filter="url(#bl)"/>
<rect x="402.50" y="446.40" width="10.50" height="1.60" rx="0.80" fill="#b0b0b0" filter="url(#bl)"/>
<rect x="337.50" y="465.10" width="13.50" height="2.60" rx="1.30" fill="#444" filter="url(#bl)"/>
<rect x="359.50" y="466.30" width="14.00" height="2.20" rx="1.10" fill="#666" filter="url(#bl)"/>
<rect x="379.50" y="464.50" width="14.50" height="2.80" rx="1.40" fill="#3a3a3a" filter="url(#bl)"/>
<rect x="402.50" y="466.10" width="11.50" height="2.00" rx="1.00" fill="#7c7c7c" filter="url(#bl)"/>
<text x="344.60" y="459.29" font-size="7.5" text-anchor="middle" font-weight="normal" fill="#111">1</text>
<text x="365.20" y="459.29" font-size="7.5" text-anchor="middle" font-weight="normal" fill="#111">0.36</text>
<text x="387.20" y="459.29" font-size="7.5" text-anchor="middle" font-weight="normal" fill="#111">0.92</text>
<text x="408.60" y="459.29" font-size="7.5" text-anchor="middle" font-weight="normal" fill="#111">0.24</text>
</svg></body></html>
